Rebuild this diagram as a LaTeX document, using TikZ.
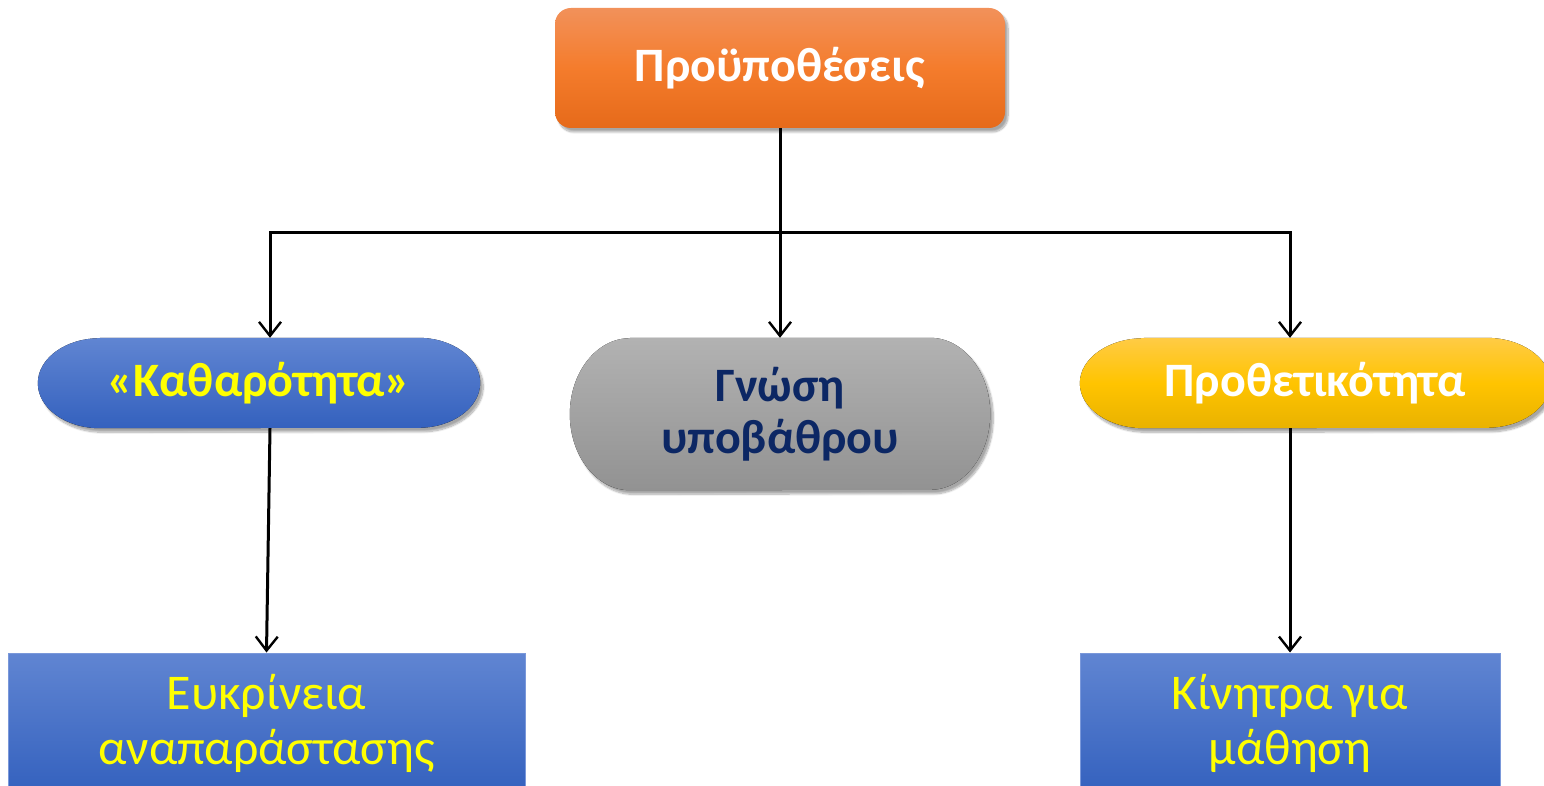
\documentclass[tikz,border=0pt]{standalone}
\usepackage{fontspec}
\setmainfont{Carlito}
\usetikzlibrary{arrows.meta,shadows.blur,calc,backgrounds}
\definecolor{orTop}{HTML}{F2915A}
\definecolor{orMid}{HTML}{F47C2C}
\definecolor{orBot}{HTML}{E66A1A}
\definecolor{blTop}{HTML}{6085D2}
\definecolor{blBot}{HTML}{3461BE}
\definecolor{blEdge}{HTML}{7A98DA}
\definecolor{grTop}{HTML}{B2B2B2}
\definecolor{grBot}{HTML}{929292}
\definecolor{yeTop}{HTML}{FFCB45}
\definecolor{yeMid}{HTML}{FFC400}
\definecolor{yeBot}{HTML}{E9B200}
\definecolor{navy}{HTML}{0C2764}
\definecolor{txtYellow}{HTML}{FFFF00}
\newcommand\pillpath[3]{($(#1.north west)+(#2,0)$) -- ($(#1.north east)-(#2,0)$)
  arc[start angle=90, end angle=-90, x radius=#2, y radius=#3]
  -- ($(#1.south west)+(#2,0)$)
  arc[start angle=270, end angle=90, x radius=#2, y radius=#3] -- cycle}
\tikzset{
  arr/.style={-{Straight Barb[length=14pt,width=22pt,line width=2.4pt]}, line width=3pt},
  conn/.style={line width=3pt},
  softshadow/.style={blur shadow={shadow xshift=3pt, shadow yshift=-4pt, shadow blur steps=10, shadow opacity=35}},
  boldtxt/.style={font=\fontsize{48}{52}\selectfont\bfseries, align=center, inner sep=0pt},
  pilltext/.style={boldtxt, shape=rectangle, draw=none},
  boxstyle/.style={rectangle, draw=blEdge, line width=1pt, top color=blTop, bottom color=blBot,
    font=\fontsize{50}{55}\selectfont, text=txtYellow, align=center, inner sep=0pt}
}
\begin{document}
\begin{tikzpicture}[x=1pt,y=-1pt]
\useasboundingbox (0,0) rectangle (1544,786);
\clip (0,0) rectangle (1544,786);

% top node
\node[boldtxt, rounded corners=16pt, minimum width=450pt, minimum height=120pt,
  top color=orTop, bottom color=orBot, middle color=orMid, softshadow, text=white] (top) at (780,68) {Προϋποθέσεις};

% pill nodes
\node[pilltext, minimum width=442pt, minimum height=90pt, text=txtYellow] (kath) at (259,383) {«Καθαρότητα»};
\node[pilltext, minimum width=420pt, minimum height=152pt, text=navy] (gnosi) at (780,414) {Γνώση\\υποβάθρου};
\node[pilltext, minimum width=470pt, minimum height=90pt, text=white] (prot) at (1315,383) {Προθετικότητα};

\begin{scope}[on background layer]
  \fill[top color=blTop, bottom color=blBot, softshadow] \pillpath{kath}{62pt}{45pt};
  \fill[top color=grTop, bottom color=grBot, softshadow] \pillpath{gnosi}{60pt}{76pt};
  \fill[top color=yeTop, bottom color=yeBot, middle color=yeMid, softshadow] \pillpath{prot}{64pt}{45pt};
\end{scope}

% bottom boxes
\node[boxstyle, minimum width=517pt, minimum height=140pt] (eukr) at (266.5,723) {Ευκρίνεια\\αναπαράστασης};
\node[boxstyle, minimum width=420pt, minimum height=140pt] (kin) at (1290,723) {Κίνητρα για\\μάθηση};

% connectors
\coordinate (j) at (780,233);
\draw[conn] (top.south) -- (j);
\draw[arr] (j) -- (gnosi.north);
\draw[arr] (j) -| ([xshift=11pt]kath.north);
\draw[arr] (j) -| ([xshift=-25pt]prot.north);
\draw[arr] ([xshift=11pt]kath.south) -- (eukr.north);
\draw[arr] ([xshift=-25pt]prot.south) -- (kin.north);
\end{tikzpicture}
\end{document}
